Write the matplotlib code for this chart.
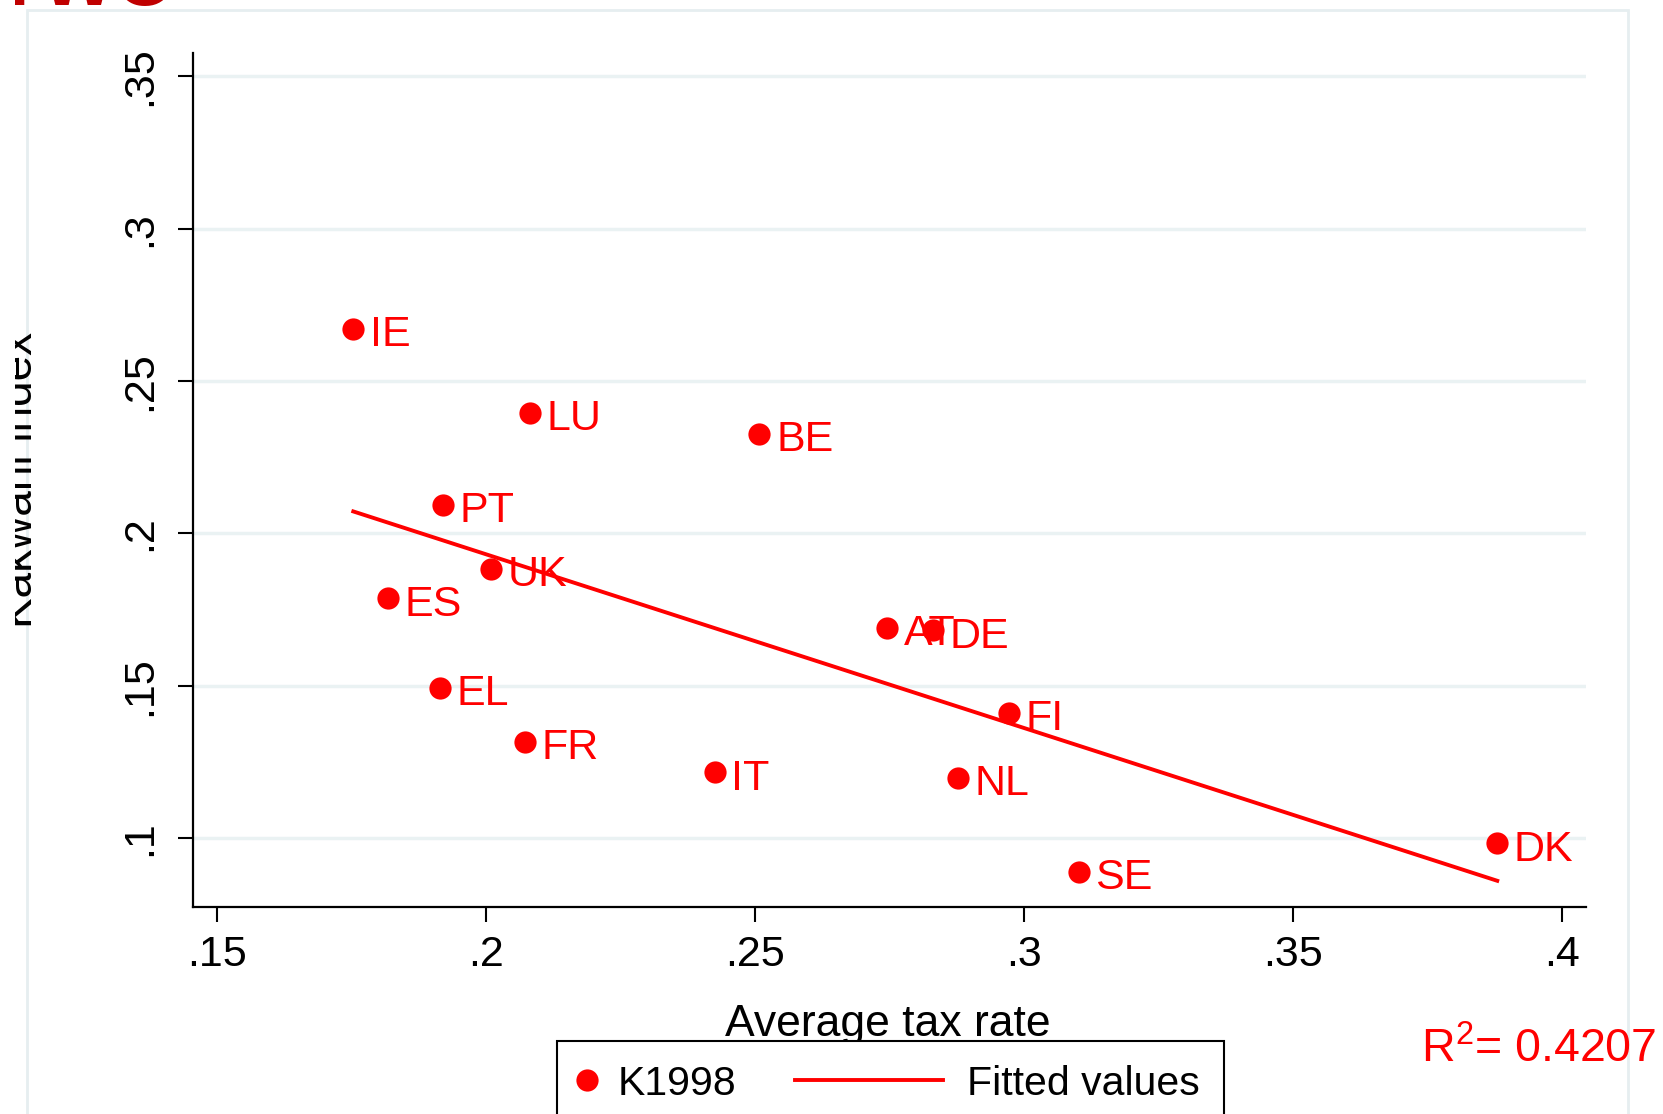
import numpy as np
import matplotlib
matplotlib.use("Agg")
import matplotlib.pyplot as plt
from matplotlib.patches import Rectangle
from matplotlib.legend_handler import HandlerLine2D

plt.rcParams['font.family'] = ['Liberation Sans', 'DejaVu Sans']

countries = ["IE", "LU", "BE", "PT", "UK", "ES", "AT", "DE", "FI", "EL", "FR", "IT", "NL", "SE", "DK"]
tax_rate = [0.1753, 0.2082, 0.2508, 0.1920, 0.2009, 0.1818, 0.2745, 0.2830, 0.2972,
            0.1914, 0.2072, 0.2425, 0.2877, 0.3102, 0.3880]
kakwani = [0.2671, 0.2396, 0.2327, 0.2093, 0.1884, 0.1787, 0.1689, 0.1682, 0.1411,
           0.1494, 0.1317, 0.1216, 0.1198, 0.0889, 0.0983]
x_ticks = [0.15, 0.20, 0.25, 0.30, 0.35, 0.40]
x_ticklabels = [".15", ".2", ".25", ".3", ".35", ".4"]
y_ticks = [0.10, 0.15, 0.20, 0.25, 0.30, 0.35]
y_ticklabels = [".1", ".15", ".2", ".25", ".3", ".35"]
r2_text = "R$^\\mathregular{2}$= 0.4207"

W, H = 1663, 1114
fig = plt.figure(figsize=(W / 100, H / 100), dpi=100, facecolor="white")

# outer light frame (graph region)
fig.patches.append(Rectangle((27 / W, -0.1), (1628 - 27) / W, (H - 10) / H + 0.1,
                             transform=fig.transFigure, fill=False,
                             edgecolor="#e6eef0", lw=2, zorder=0))

ax = fig.add_axes([193 / W, 1 - 907 / H, (1586 - 193) / W, (907 - 53) / H])
ax.set_xlim(0.1455, 0.4045)
ax.set_ylim(0.0774, 0.3577)

x = np.array(tax_rate)
y = np.array(kakwani)
ax.plot(x, y, "o", color="#ff0000", markersize=16, markeredgewidth=0, zorder=3, label="K1998")
b, a = np.polyfit(x, y, 1)
xf = np.array([x.min(), x.max()])
ax.plot(xf, a + b * xf, color="#ff0000", lw=2.8, zorder=2, label="Fitted values")

for c, xi, yi in zip(countries, tax_rate, kakwani):
    ax.annotate(c, (xi, yi), xytext=(12, -4.5), textcoords="offset points",
                ha="left", va="center", color="#ff0000", fontsize=31, zorder=4)

ax.set_xticks(x_ticks)
ax.set_xticklabels(x_ticklabels)
ax.set_yticks(y_ticks)
ax.set_yticklabels(y_ticklabels)
ax.tick_params(axis="x", length=11, width=1.5, labelsize=31, pad=9)
ax.tick_params(axis="y", length=11, width=1.5, labelsize=31, pad=13, labelrotation=90)
for lab in ax.get_yticklabels():
    lab.set_va("center")

for s in ["top", "right"]:
    ax.spines[s].set_visible(False)
for s in ["left", "bottom"]:
    ax.spines[s].set_linewidth(1.6)
ax.yaxis.grid(True, color="#eaf2f3", lw=2.5)
ax.set_axisbelow(True)

fig.text(888 / W, 1 - 1036 / H, "Average tax rate", ha="center", va="baseline", fontsize=32)
fig.text(42 / W, 1 - 480 / H, "Kakwani index", rotation=90, ha="right", va="center", fontsize=33)
# crop mask at the far left edge
fig.patches.append(Rectangle((0, 0), 15 / W, 1, transform=fig.transFigure,
                             facecolor="white", edgecolor="none", zorder=10))

# partially visible slide title at the top
fig.text(-6 / W, 1 - 5 / H, "TWO", color="#c00000", fontsize=56, fontweight="bold",
         ha="left", va="baseline")

fig.text(1421 / W, 1 - 1062 / H, r2_text, color="#ff0000", fontsize=33.5, ha="left", va="baseline")


class NarrowHandler(HandlerLine2D):
    def __init__(self, frac, **kw):
        super().__init__(**kw)
        self.frac = frac

    def legend_artist(self, legend, orig_handle, fontsize, handlebox):
        handlebox.width = handlebox.width * self.frac
        return super().legend_artist(legend, orig_handle, fontsize, handlebox)


handles, labels = ax.get_legend_handles_labels()
leg = fig.legend(handles, labels, loc="upper left", bbox_to_anchor=(557 / W, 1 - 1041 / H),
                 bbox_transform=fig.transFigure, ncol=2, fontsize=29.5, frameon=True,
                 fancybox=False, shadow=False, framealpha=1, edgecolor="black",
                 borderpad=0.58, handletextpad=0.6, columnspacing=1.45, handlelength=3.6,
                 borderaxespad=0, numpoints=1,
                 handler_map={handles[0]: NarrowHandler(0.08)})
leg.get_frame().set_linewidth(1.5)

fig.savefig("out.png", dpi=100, facecolor="white")
